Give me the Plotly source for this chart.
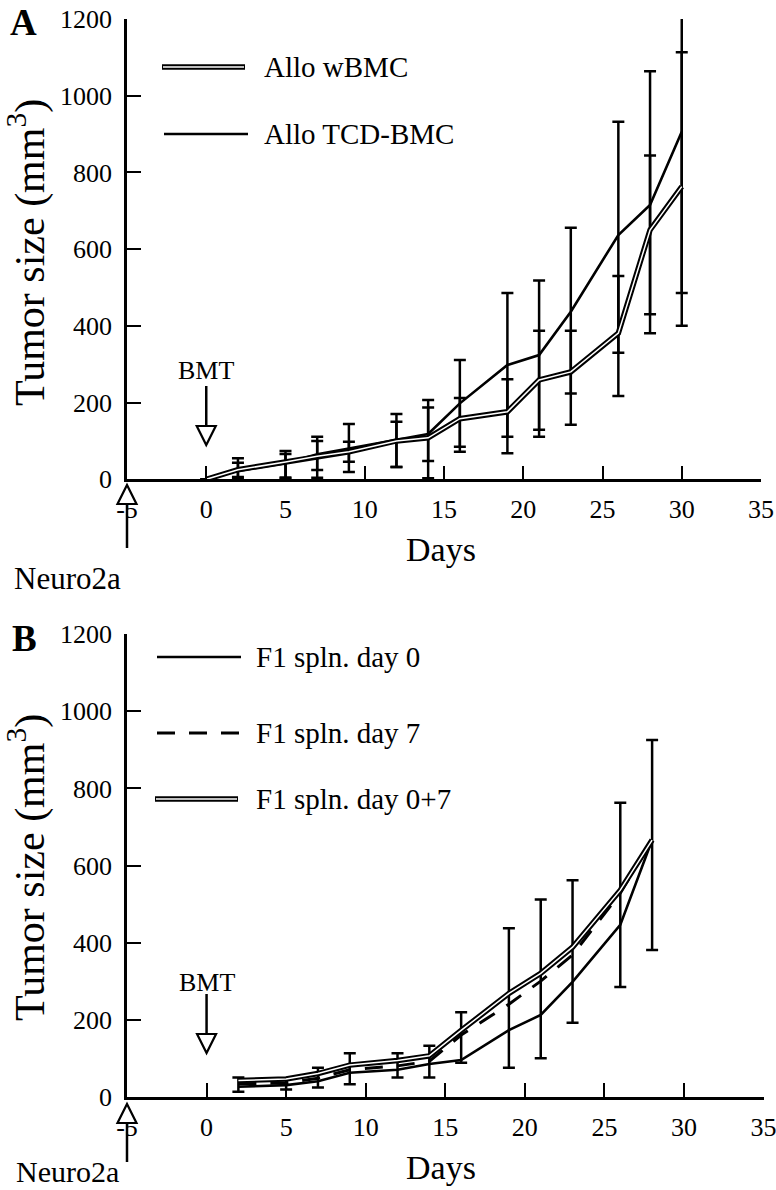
import plotly.graph_objects as go

W, H = 776, 1190
FONT = "Liberation Serif"

# ---------------- Panel A data ----------------
days_a = [0, 2, 5, 7, 9, 12, 14, 16, 19, 21, 23, 26, 28, 30]
wbmc_mean = [0, 25, 45, 60, 72, 100, 108, 158, 176, 259, 280, 381, 650, 763]
wbmc_upper = [0, 43, 66, 100, 98, 150, 187, 212, 261, 387, 387, 530, 844, 1113]
wbmc_lower = [0, 6, 5, 4, 46, 32, 48, 72, 68, 111, 142, 217, 430, 486]
tcd_mean = [0, 22, 42, 65, 80, 102, 118, 198, 298, 324, 437, 637, 715, 906]
tcd_upper = [0, 55, 74, 111, 144, 170, 207, 311, 486, 518, 656, 932, 1064, 1412]
tcd_lower = [0, 2, 2, 24, 19, 32, 3, 85, 111, 129, 224, 330, 381, 400]

# ---------------- Panel B data ----------------
days_b = [2, 5, 7, 9, 12, 14, 16, 19, 21, 23, 26, 28]
d0_mean = [26, 30, 40, 62, 70, 85, 95, 173, 212, 298, 446, 666]
d7_mean = [33, 36, 48, 70, 80, 92, 160, 240, 300, 368, 528, 666]
d07_mean = [42, 46, 60, 82, 94, 106, 172, 268, 320, 388, 536, 666]
d7_upper = [50, 48, 75, 113, 113, 132, 219, 437, 512, 562, 763, 926]
d7_lower = [13, 19, 24, 32, 50, 50, 88, 75, 100, 192, 285, 381]

x_ticks = [-5, 0, 5, 10, 15, 20, 25, 30, 35]
x_tick_labels = ["-5", "0", "5", "10", "15", "20", "25", "30", "35"]
y_ticks = [0, 200, 400, 600, 800, 1000, 1200]
y_tick_labels = ["0", "200", "400", "600", "800", "1000", "1200"]

legend_a = ["Allo wBMC", "Allo TCD-BMC"]
legend_b = ["F1 spln. day 0", "F1 spln. day 7", "F1 spln. day 0+7"]


def plus(mean, upper):
    return [u - m for m, u in zip(mean, upper)]


def minus(mean, lower):
    return [m - l for m, l in zip(mean, lower)]


def px(x):
    return x / W


def py(y):
    return 1 - y / H


# pixel geometry of the two plot areas
AX_L = 127
A_R, A_TOP, A_BOT = 761, 19, 479.3
B_R, B_TOP, B_BOT = 763.5, 634.3, 1096.7


def day_px(day, right):
    return AX_L + (day + 5) / 40 * (right - AX_L)


fig = go.Figure()


def err(p, m):
    return dict(type="data", symmetric=False, array=p, arrayminus=m,
                color="black", thickness=2.5, width=6)


# Panel A
fig.add_trace(go.Scatter(x=days_a, y=tcd_mean, mode="lines", xaxis="x", yaxis="y",
                         line=dict(color="black", width=2.6),
                         error_y=err(plus(tcd_mean, tcd_upper), minus(tcd_mean, tcd_lower)),
                         showlegend=False))
fig.add_trace(go.Scatter(x=days_a, y=wbmc_mean, mode="lines", xaxis="x", yaxis="y",
                         line=dict(color="black", width=5.5),
                         error_y=err(plus(wbmc_mean, wbmc_upper), minus(wbmc_mean, wbmc_lower)),
                         showlegend=False))
fig.add_trace(go.Scatter(x=days_a, y=wbmc_mean, mode="lines", xaxis="x", yaxis="y",
                         line=dict(color="white", width=1.5), showlegend=False))

# Panel B
fig.add_trace(go.Scatter(x=days_b, y=d0_mean, mode="lines", xaxis="x2", yaxis="y2",
                         line=dict(color="black", width=2.6), showlegend=False))
fig.add_trace(go.Scatter(x=days_b, y=d7_mean, mode="lines", xaxis="x2", yaxis="y2",
                         line=dict(color="black", width=3, dash="18px,14px"),
                         error_y=err(plus(d7_mean, d7_upper), minus(d7_mean, d7_lower)),
                         showlegend=False))
fig.add_trace(go.Scatter(x=days_b, y=d07_mean, mode="lines", xaxis="x2", yaxis="y2",
                         line=dict(color="black", width=5.5), showlegend=False))
fig.add_trace(go.Scatter(x=days_b, y=d07_mean, mode="lines", xaxis="x2", yaxis="y2",
                         line=dict(color="white", width=1.5), showlegend=False))


def axis(**kw):
    d = dict(showline=True, linecolor="black", linewidth=2.5, ticks="inside",
             ticklen=14, tickwidth=2.2, tickcolor="black", showgrid=False,
             zeroline=False, automargin=False, ticklabeloverflow="allow",
             tickfont=dict(family=FONT, size=26, color="black"))
    d.update(kw)
    return d


xa = dict(range=[-5, 35], tickvals=x_ticks, ticktext=x_tick_labels, ticklabelstandoff=5)
ya = dict(range=[0, 1200], tickvals=y_ticks, ticktext=y_tick_labels, ticklabelstandoff=7)

fig.update_layout(
    template="none",
    font=dict(family=FONT, size=26, color="black"),
    width=W, height=H, paper_bgcolor="white", plot_bgcolor="white",
    margin=dict(l=0, r=0, t=0, b=0, pad=0),
    xaxis=axis(domain=[px(AX_L), px(A_R)], anchor="y", **xa),
    yaxis=axis(domain=[py(A_BOT), py(A_TOP)], anchor="x", **ya),
    xaxis2=axis(domain=[px(AX_L), px(B_R)], anchor="y2", **xa),
    yaxis2=axis(domain=[py(B_BOT), py(B_TOP)], anchor="x2", **ya),
)

shapes = []
annotations = []


def text(t, x, y, size=29, xanchor="center", **kw):
    annotations.append(dict(text=t, x=px(x), y=py(y), xref="paper", yref="paper",
                            xanchor=xanchor, yanchor="middle", showarrow=False,
                            font=dict(family=FONT, size=size, color="black"), **kw))


def line(x0, y0, x1, y1, width=2.5, color="black", dash=None):
    d = dict(type="line", xref="paper", yref="paper", x0=px(x0), y0=py(y0),
             x1=px(x1), y1=py(y1), line=dict(color=color, width=width))
    if dash:
        d["line"]["dash"] = dash
    shapes.append(d)


def double_line(x0, y, x1):
    line(x0, y, x1, y, width=5.5)
    line(x0 + 1, y, x1 - 1, y, width=1.5, color="white")


def arrow(x, y_start, y_tip, up=False):
    # shaft + hollow triangular head
    hh, hw = 19, 9.5
    base = y_tip + hh if up else y_tip - hh
    line(x, y_start, x, base, width=2.5)
    path = (f"M {px(x - hw)},{py(base)} L {px(x + hw)},{py(base)} "
            f"L {px(x)},{py(y_tip)} Z")
    shapes.append(dict(type="path", xref="paper", yref="paper", path=path,
                       fillcolor="white", line=dict(color="black", width=2.2)))


# ---- Panel A decorations ----
text("<b>A</b>", 23, 22, size=37)
text("Tumor size (mm<sup>3</sup>)", 27, 253, size=42, textangle=-90)
text("Days", 441, 549, size=34)
double_line(162, 67, 245)
text(legend_a[0], 262, 67, xanchor="left")
line(164, 134, 248, 134, width=2.6)
text(legend_a[1], 262, 134, xanchor="left")
text("BMT", day_px(0, A_R), 370, size=26)
arrow(day_px(0, A_R), 386, 445)
arrow(day_px(-5, A_R), 548, 485, up=True)
text("Neuro2a", 67, 578, size=31)

# ---- Panel B decorations ----
text("<b>B</b>", 25, 638, size=37)
text("Tumor size (mm<sup>3</sup>)", 27, 868, size=42, textangle=-90)
text("Days", 441, 1167, size=34)
line(157, 657, 241, 657, width=2.6)
text(legend_b[0], 254, 657, xanchor="left")
line(157, 733, 241, 733, width=3, dash="18px,14px")
text(legend_b[1], 254, 733, xanchor="left")
double_line(155, 799, 238)
text(legend_b[2], 254, 799, xanchor="left")
text("BMT", day_px(0, B_R), 982, size=26)
arrow(day_px(0, B_R), 994, 1053)
arrow(day_px(-5, B_R), 1162, 1104, up=True)
text("Neuro2a", 67, 1171, size=30)

fig.update_layout(shapes=shapes, annotations=annotations)
fig.write_html("out.html",
               config={"displayModeBar": False},
               post_script="document.body.style.margin='0';"
                           "document.body.style.overflow='hidden';")
